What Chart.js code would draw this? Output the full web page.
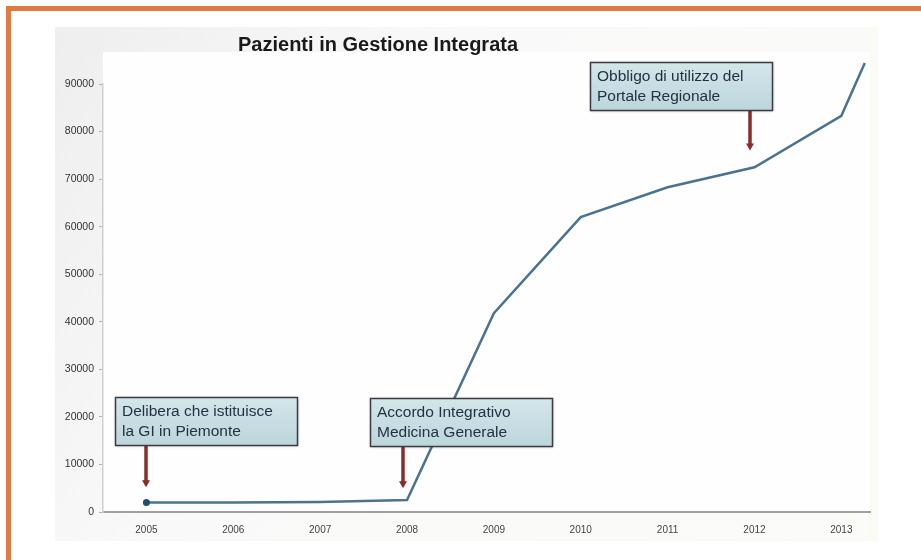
<!DOCTYPE html>
<html>
<head>
<meta charset="utf-8">
<script src="https://cdn.jsdelivr.net/npm/chart.js@4/dist/chart.umd.min.js"></script>
<style>
  html, body { margin: 0; padding: 0; background: #ffffff; }
  #wrap { position: relative; width: 921px; height: 560px; overflow: hidden; }
  canvas { display: block; }
</style>
</head>
<body>
<div id="wrap"><canvas id="c" width="921" height="560"></canvas></div>
<script>
// ---- data ----
const chartTitle = 'Pazienti in Gestione Integrata';
const periods = [2005, 2006, 2007, 2008, 2009, 2010, 2011, 2012, 2013, 2013.27];
const patients = [2000, 2000, 2100, 2500, 41800, 62000, 68300, 72500, 83300, 94400];
const yearTicks = [2005, 2006, 2007, 2008, 2009, 2010, 2011, 2012, 2013];
const yearLabels = ['2005', '2006', '2007', '2008', '2009', '2010', '2011', '2012', '2013'];
const yTickValues = [0, 10000, 20000, 30000, 40000, 50000, 60000, 70000, 80000, 90000];

// annotation events (text lines, year the arrow points at, value at arrow tip)
const eventLines = [
  ['Delibera che istituisce', 'la GI in Piemonte'],
  ['Accordo Integrativo', 'Medicina Generale'],
  ['Obbligo di utilizzo del', 'Portale Regionale']
];
const eventYears = [2005, 2007.95, 2011.95];
const eventTipValues = [5200, 5000, 76000];
const eventBoxValues = [[2004.64, 24200], [2007.57, 24000], [2010.11, 94600]]; // box top-left in data units

const frame = {
  id: 'frame',
  beforeDraw(chart) {
    const ctx = chart.ctx;
    ctx.save();
    ctx.fillStyle = '#ffffff';
    ctx.fillRect(0, 0, chart.width, chart.height);
    const g = ctx.createLinearGradient(55, 27, 878, 541);
    g.addColorStop(0, '#eeeeee');
    g.addColorStop(0.35, '#f9f9f9');
    g.addColorStop(1, '#fbfbf8');
    ctx.fillStyle = g;
    ctx.fillRect(55, 27, 823, 514);
    ctx.fillStyle = '#fbfbf5';
    ctx.fillRect(868, 27, 10, 514);
    ctx.fillStyle = '#fefefe';
    const a = chart.chartArea;
    ctx.fillRect(a.left, 52, a.right - a.left, a.bottom - 52);
    ctx.fillStyle = '#e07a45';
    ctx.fillRect(6, 6, chart.width - 6, 5);
    ctx.fillRect(6, 6, 5, chart.height - 6);
    ctx.restore();
  },
  afterDraw(chart) {
    const ctx = chart.ctx;
    ctx.save();
    ctx.font = 'bold 20px "Liberation Sans", Arial, sans-serif';
    ctx.fillStyle = '#1a1a1a';
    ctx.textBaseline = 'middle';
    ctx.textAlign = 'left';
    ctx.fillText(chartTitle, 238, 45);
    ctx.restore();
  }
};

const events = {
  id: 'events',
  afterDatasetsDraw(chart) {
    const ctx = chart.ctx;
    const xs = chart.scales.x, ys = chart.scales.y;
    ctx.save();
    ctx.font = '15.5px "Liberation Sans", Arial, sans-serif';
    eventLines.forEach((lines, i) => {
      const bx = Math.round(xs.getPixelForValue(eventBoxValues[i][0]));
      const by = Math.round(ys.getPixelForValue(eventBoxValues[i][1]));
      const w = 182;
      const h = 48;
      const ax = Math.round(xs.getPixelForValue(eventYears[i]));
      const ay = ys.getPixelForValue(eventTipValues[i]);
      ctx.strokeStyle = '#8b2c2c';
      ctx.fillStyle = '#8b2c2c';
      ctx.lineWidth = 3.5;
      ctx.beginPath();
      ctx.moveTo(ax, by + h);
      ctx.lineTo(ax, ay - 6);
      ctx.stroke();
      ctx.beginPath();
      ctx.moveTo(ax - 4, ay - 7);
      ctx.lineTo(ax + 4, ay - 7);
      ctx.lineTo(ax, ay);
      ctx.closePath();
      ctx.fill();
      ctx.shadowColor = 'rgba(0,0,0,0.25)';
      ctx.shadowBlur = 3;
      ctx.shadowOffsetX = 1;
      ctx.shadowOffsetY = 1;
      const g = ctx.createLinearGradient(0, by, 0, by + h);
      g.addColorStop(0, '#d4e6ea');
      g.addColorStop(1, '#bcd6dc');
      ctx.fillStyle = g;
      ctx.fillRect(bx, by, w, h);
      ctx.shadowColor = 'transparent';
      ctx.strokeStyle = '#3b3b40';
      ctx.lineWidth = 1.5;
      ctx.strokeRect(bx + 0.5, by + 0.5, w, h);
      ctx.fillStyle = '#243240';
      ctx.textBaseline = 'middle';
      ctx.textAlign = 'left';
      lines.forEach((t, k) => ctx.fillText(t, bx + 7, by + 15 + k * 20));
    });
    ctx.restore();
  }
};

new Chart(document.getElementById('c'), {
  type: 'line',
  data: {
    datasets: [{
      label: 'Pazienti',
      data: periods.map((p, i) => ({ x: p, y: patients[i] })),
      borderColor: '#4a7390',
      borderWidth: 2.5,
      backgroundColor: '#1f4e79',
      pointRadius: ctx => ctx.dataIndex === 0 ? 3.5 : 0,
      pointBorderWidth: 0,
      pointHoverRadius: 0,
      tension: 0,
      fill: false,
      clip: false
    }]
  },
  options: {
    responsive: false,
    animation: false,
    events: [],
    layout: { padding: { left: 55, right: 51, top: 84, bottom: 18 } },
    plugins: { legend: { display: false }, title: { display: false }, tooltip: { enabled: false } },
    scales: {
      x: {
        type: 'linear',
        min: 2004.5,
        max: 2013.33,
        afterBuildTicks: axis => { axis.ticks = yearTicks.map(v => ({ value: v })); },
        afterFit: s => { s.height = 30; },
        grid: { display: false },
        border: { display: true, color: '#a0a0a0', width: 2 },
        ticks: {
          autoSkip: false,
          maxRotation: 0,
          padding: 4,
          color: '#444444',
          font: { family: '"Liberation Sans", Arial, sans-serif', size: 10 },
          callback: (v) => yearLabels[yearTicks.indexOf(v)]
        }
      },
      y: {
        min: 0,
        max: 90000,
        afterBuildTicks: axis => { axis.ticks = yTickValues.map(v => ({ value: v })); },
        afterFit: s => { s.width = 48; },
        grid: { display: true, drawOnChartArea: false, drawTicks: true, tickLength: 4, color: '#b0b0b0' },
        border: { display: true, color: '#cfcfcf', width: 1.5 },
        ticks: {
          padding: 5,
          color: '#333333',
          font: { family: '"Liberation Sans", Arial, sans-serif', size: 10.5 },
          callback: v => String(v)
        }
      }
    }
  },
  plugins: [frame, events]
});
</script>
</body>
</html>
